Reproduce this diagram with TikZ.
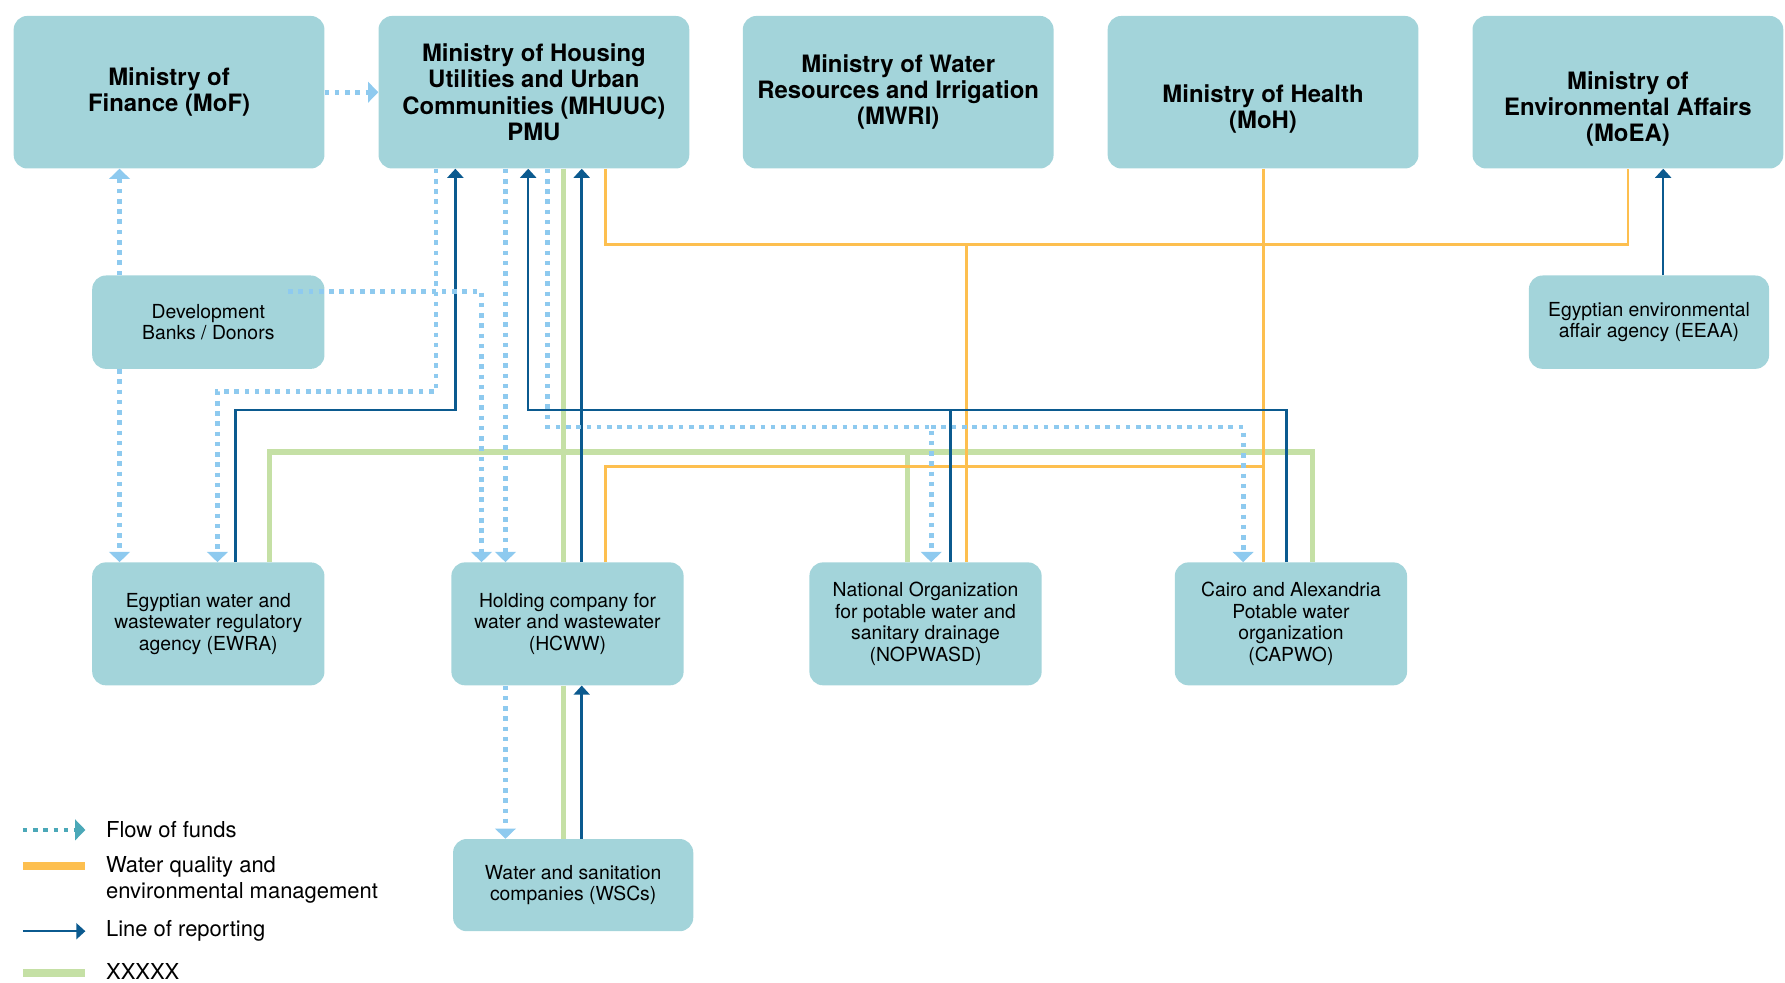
\documentclass[tikz,border=0pt]{standalone}
\usepackage{fontspec}
\setmainfont{TeX Gyre Heros}
\usetikzlibrary{arrows.meta}
\definecolor{boxteal}{RGB}{163,212,218}
\definecolor{fundblue}{RGB}{142,202,239}
\definecolor{fundteal}{RGB}{75,168,184}
\definecolor{qualityorange}{RGB}{253,191,79}
\definecolor{reportblue}{RGB}{11,90,143}
\definecolor{linkgreen}{RGB}{197,224,165}
\tikzset{
  ministry/.style={
    rounded corners=12pt,
    fill=boxteal,
    minimum width=273pt,
    minimum height=134pt,
    inner sep=0pt,
    align=center,
    font=\fontsize{21}{23}\selectfont\bfseries,
  },
  agency/.style={
    rounded corners=12pt,
    fill=boxteal,
    minimum width=204pt,
    minimum height=108pt,
    inner sep=0pt,
    align=center,
    font=\fontsize{17}{19}\selectfont,
  },
  keytext/.style={
    anchor=west,
    inner sep=0pt,
    align=left,
    font=\fontsize{19.3}{23}\selectfont,
  },
  funds/.style={
    draw=fundblue,
    line width=4.2pt,
    dash pattern=on 4pt off 5pt,
    -{Triangle[width=18pt,length=9pt]},
  },
  fundline/.style={
    draw=fundblue,
    line width=4.2pt,
    dash pattern=on 4pt off 5pt,
  },
  quality/.style={
    draw=qualityorange,
    line width=2.5pt,
  },
  reportline/.style={
    draw=reportblue,
    line width=2.2pt,
  },
  reporting/.style={
    reportline,
    -{Triangle[width=14pt,length=8pt]},
  },
  linkage/.style={
    draw=linkgreen,
    line width=4.6pt,
  },
}

\begin{document}
\begin{tikzpicture}[x=1pt, y=-1pt]
  \useasboundingbox (0, 0) rectangle (1568, 863);

  % ministries
  \node[ministry] (mof) at (148.5, 81) {Ministry of\\Finance (MoF)};
  \node[ministry] (mhuuc) at (469, 81) {Ministry of Housing\\Utilities and Urban\\Communities (MHUUC)\\PMU};
  \node[ministry] (mwri) at (789, 81) {Ministry of Water\\Resources and Irrigation\\(MWRI)};
  \node[ministry] (moh) at (1109.5, 81) {\rule{0pt}{22pt}\\Ministry of Health\\(MoH)};
  \node[ministry] (moea) at (1430, 81) {\rule{0pt}{22pt}\\Ministry of\\Environmental Affairs\\(MoEA)};

  % agencies
  \node[agency, minimum height=82pt] (dev) at (183, 283) {Development\\Banks / Donors};
  \node[agency, minimum width=211pt, minimum height=82pt] (eeaa) at (1448.5, 283) {Egyptian environmental\\affair agency (EEAA)};
  \node[agency] (ewra) at (183, 548) {Egyptian water and\\wastewater regulatory\\agency (EWRA)};
  \node[agency] (hcww) at (498.5, 548) {Holding company for\\water and wastewater\\(HCWW)};
  \node[agency] (nop) at (813, 548) {National Organization\\for potable water and\\sanitary drainage\\(NOPWASD)};
  \node[agency] (capwo) at (1134, 548) {Cairo and Alexandria\\Potable water\\organization\\(CAPWO)};
  \node[agency, minimum width=211pt, minimum height=81pt] (wsc) at (503.5, 777.5) {Water and sanitation\\companies (WSCs)};

  % XXXXX
  \draw[linkage] (495,0 |- mhuuc.south) -- (495,0 |- hcww.north);
  \draw[linkage] (495,0 |- hcww.south) -- (495,0 |- wsc.north);
  \draw[linkage] (237,0 |- ewra.north) |- (1153,397) -- (1153,0 |- capwo.north);
  \draw[linkage] (797,397) -- (797,0 |- nop.north);

  % water quality and environmental management
  \draw[quality] (532,0 |- mhuuc.south) |- (1430,215) -- (1430,0 |- moea.south);
  \draw[quality] (849,215) -- (849,0 |- nop.north);
  \draw[quality] (1110,0 |- moh.south) -- (1110,0 |- capwo.north);
  \draw[quality] (532,0 |- hcww.north) |- (1110,410);

  % line of reporting
  \draw[reporting] (207,0 |- ewra.north) |- (400,360) -- (400,0 |- mhuuc.south);
  \draw[reporting] (511,0 |- hcww.north) -- (511,0 |- mhuuc.south);
  \draw[reporting] (835,0 |- nop.north) |- (464,360) -- (464,0 |- mhuuc.south);
  \draw[reportline] (1130,0 |- capwo.north) |- (835,360);
  \draw[reporting] (1461,0 |- eeaa.north) -- (1461,0 |- moea.south);
  \draw[reporting] (511,0 |- wsc.north) -- (511,0 |- hcww.south);

  % flow of funds
  \draw[funds] (mof.east) -- (mhuuc.west);
  \draw[funds] (105,0 |- dev.north) -- (105,0 |- mof.south);
  \draw[funds] (105,0 |- dev.south) -- (105,0 |- ewra.north);
  \draw[funds] ([xshift=-32pt, yshift=-14pt]dev.north east) -| (423,0 |- hcww.north);
  \draw[funds] (383,0 |- mhuuc.south) |- (191,344) -- (191,0 |- ewra.north);
  \draw[funds] (444,0 |- mhuuc.south) -- (444,0 |- hcww.north);
  \draw[funds] (481,0 |- mhuuc.south) |- (818,375) -- (818,0 |- nop.north);
  \draw[funds] (818,375) -| (1092,0 |- capwo.north);
  \draw[funds] (444,0 |- hcww.south) -- (444,0 |- wsc.north);

  % legend
  \node[keytext] (fundskey) at (93, 729) {Flow of funds};
  \node[keytext] (qualitykey) at (93, 773) {Water quality and\\environmental management};
  \node[keytext] (reportkey) at (93, 818) {Line of reporting};
  \node[keytext] (linkkey) at (93, 853) {XXXXX};

  \draw[fundline, draw=fundteal, -{Triangle[width=18pt,length=9pt]}] ([xshift=-73pt]fundskey.west) -- ([xshift=-18pt]fundskey.west);
  \draw[quality, line width=7pt] ([xshift=-73pt, yshift=12pt]qualitykey.west) -- ([xshift=-18pt, yshift=12pt]qualitykey.west);
  \draw[reporting] ([xshift=-73pt]reportkey.west) -- ([xshift=-18pt]reportkey.west);
  \draw[linkage, line width=7pt] ([xshift=-73pt, yshift=-2pt]linkkey.west) -- ([xshift=-18pt, yshift=-2pt]linkkey.west);
\end{tikzpicture}
\end{document}
